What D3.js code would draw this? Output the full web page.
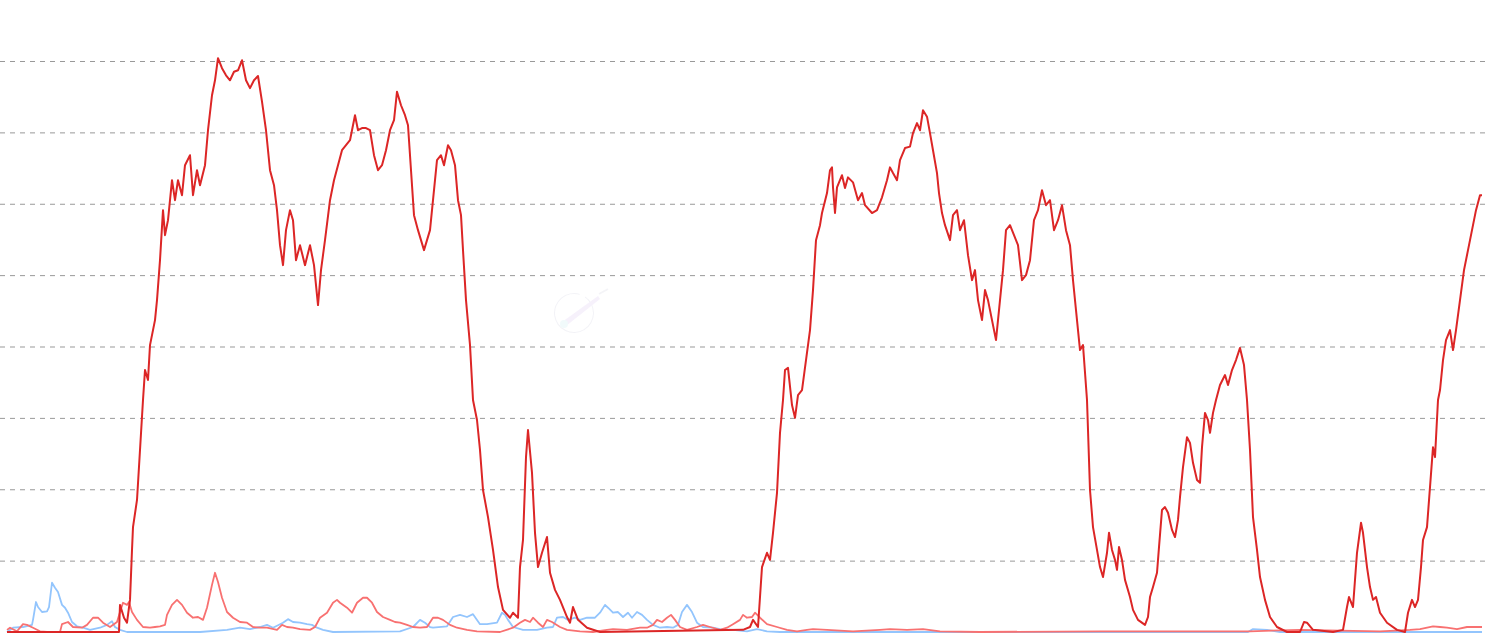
<!DOCTYPE html>
<html>
<head>
<meta charset="utf-8">
<script src="https://cdn.jsdelivr.net/npm/d3@7/dist/d3.min.js"></script>
<style>
html,body{margin:0;padding:0;background:#fff;}
svg{display:block;}
</style>
</head>
<body>
<svg id="chart" width="1490" height="633"></svg>
<script>
// ---- data (time index, value) ----
const gridTicks = [1, 2, 3, 4, 5, 6, 7, 8];

const mainT = [0,112,113,117,120,123,125,126,130,133,136,138,141,143,148,150,153,156,158,161,165,168,171,175,178,183,186,190,193,198,201,205,208,211,215,219,223,227,231,235,239,243,247,251,255,259,263,267,270,273,276,279,283,286,289,293,298,303,307,311,314,318,323,327,331,335,339,343,348,351,355,359,363,367,371,375,379,383,387,390,394,398,401,404,407,411,414,417,420,423,426,430,434,437,441,444,448,451,454,456,459,463,466,470,473,476,481,486,491,496,503,506,511,513,516,519,521,525,528,531,535,540,543,548,553,560,563,566,571,580,593,736,743,746,751,755,760,763,766,770,773,776,778,781,785,788,791,795,799,803,806,809,813,815,820,823,825,826,828,830,835,838,841,846,851,855,858,865,870,875,880,883,886,890,893,898,903,906,910,913,916,920,923,926,930,932,935,938,943,946,950,953,957,961,965,968,971,975,978,981,985,989,992,996,999,1003,1007,1011,1015,1019,1023,1027,1031,1035,1039,1043,1047,1051,1055,1059,1063,1066,1069,1073,1076,1080,1083,1086,1090,1093,1096,1100,1102,1105,1108,1110,1112,1115,1118,1123,1126,1131,1138,1141,1143,1146,1150,1152,1155,1158,1161,1165,1168,1171,1173,1176,1180,1183,1186,1190,1193,1195,1198,1201,1203,1206,1209,1213,1218,1221,1225,1229,1233,1237,1240,1243,1246,1250,1253,1258,1263,1270,1280,1293,1297,1300,1306,1326,1336,1340,1342,1346,1350,1354,1356,1360,1363,1366,1369,1373,1380,1390,1398,1401,1405,1408,1411,1414,1416,1420,1423,1426,1428,1431,1433,1436,1439,1443,1446,1449,1453,1457,1461,1465,1469,1473,1475];
const mainV = [0,0,0.38,0.20,0.13,0.45,1.15,1.47,1.85,2.55,3.25,3.67,3.53,4.02,4.37,4.65,5.21,5.91,5.56,5.77,6.33,6.05,6.33,6.12,6.54,6.68,6.12,6.47,6.26,6.54,7.03,7.52,7.73,8.04,7.90,7.80,7.73,7.85,7.87,8.01,7.73,7.62,7.73,7.79,7.43,7.03,6.47,6.26,5.91,5.42,5.14,5.63,5.91,5.77,5.21,5.42,5.14,5.42,5.14,4.58,5.07,5.49,6.05,6.33,6.54,6.75,6.82,6.89,7.24,7.03,7.06,7.06,7.03,6.68,6.47,6.54,6.75,7.03,7.17,7.57,7.38,7.24,7.10,6.47,5.84,5.63,5.49,5.35,5.49,5.63,6.05,6.61,6.68,6.54,6.82,6.75,6.54,6.05,5.84,5.35,4.65,4.02,3.25,2.97,2.55,1.99,1.61,1.15,0.63,0.31,0.20,0.27,0.20,0.91,1.29,2.45,2.83,2.23,1.39,0.91,1.11,1.33,0.83,0.59,0.45,0.21,0.13,0.35,0.17,0.06,0,0.03,0.07,0.17,0.07,0.91,1.11,1.01,1.39,1.95,2.79,3.25,3.67,3.70,3.18,3.00,3.32,3.39,3.81,4.23,4.79,5.49,5.70,5.87,6.15,6.47,6.51,6.23,5.87,6.23,6.40,6.22,6.37,6.30,6.05,6.15,5.98,5.87,5.91,6.09,6.33,6.51,6.43,6.33,6.61,6.78,6.80,6.99,7.13,7.03,7.31,7.22,6.99,6.75,6.43,6.15,5.87,5.70,5.49,5.84,5.91,5.63,5.77,5.28,4.93,5.07,4.65,4.37,4.79,4.65,4.37,4.09,4.51,5.07,5.63,5.70,5.56,5.42,4.93,5.00,5.21,5.77,5.91,6.19,5.98,6.05,5.63,5.77,5.98,5.63,5.42,4.93,4.51,3.95,4.02,3.25,1.99,1.47,1.15,0.91,0.77,1.11,1.39,1.15,1.01,0.87,1.19,1.01,0.73,0.49,0.31,0.17,0.10,0.21,0.49,0.63,0.83,1.19,1.71,1.75,1.67,1.43,1.33,1.57,1.89,2.31,2.73,2.65,2.37,2.13,2.09,2.59,3.07,2.97,2.79,3.07,3.25,3.46,3.60,3.46,3.67,3.81,3.98,3.74,3.25,2.55,1.61,1.15,0.77,0.45,0.21,0.07,0,0,0.14,0.13,0.03,0,0.03,0.35,0.49,0.35,1.11,1.53,1.39,0.91,0.63,0.45,0.49,0.27,0.13,0.03,0,0.27,0.45,0.35,0.45,0.91,1.29,1.47,2.03,2.59,2.45,3.25,3.39,3.81,4.09,4.23,3.95,4.23,4.65,5.07,5.35,5.63,5.91,6.12,6.12];

const pinkT = [0,3,10,16,20,26,33,40,53,55,61,66,75,80,86,91,96,103,110,113,116,120,122,125,130,136,143,148,153,158,160,165,170,175,180,186,191,196,200,205,208,211,215,220,226,233,240,246,253,260,270,275,280,286,293,303,308,313,320,326,330,333,340,345,350,356,360,365,370,376,383,388,393,400,406,413,420,426,431,436,443,450,460,470,493,506,513,518,523,526,531,536,540,545,553,560,573,586,600,606,620,633,640,646,650,655,660,664,668,673,680,690,696,703,713,720,726,733,736,740,745,748,753,760,770,780,790,800,806,820,846,873,883,900,916,933,973,1093,1243,1293,1373,1403,1413,1426,1433,1440,1450,1460,1470,1475];
const pinkV = [0.03,0.06,0.01,0.11,0.10,0.06,0.01,0,0,0.11,0.14,0.07,0.06,0.10,0.20,0.20,0.13,0.07,0.14,0.28,0.41,0.38,0.42,0.28,0.17,0.07,0.06,0.07,0.08,0.10,0.24,0.38,0.45,0.38,0.27,0.20,0.21,0.17,0.34,0.66,0.83,0.70,0.48,0.28,0.20,0.14,0.13,0.07,0.06,0.06,0.03,0.10,0.07,0.06,0.04,0.03,0.07,0.20,0.27,0.41,0.45,0.41,0.34,0.27,0.41,0.48,0.48,0.41,0.28,0.21,0.17,0.14,0.13,0.10,0.07,0.06,0.07,0.20,0.20,0.17,0.10,0.06,0.03,0.01,0,0.06,0.13,0.17,0.14,0.20,0.13,0.07,0.17,0.14,0.07,0.03,0.01,0,0.03,0.04,0.03,0.06,0.06,0.10,0.17,0.14,0.20,0.24,0.17,0.07,0.03,0.07,0.10,0.07,0.03,0.06,0.11,0.17,0.24,0.20,0.21,0.27,0.20,0.11,0.07,0.03,0.01,0.03,0.04,0.03,0.01,0.03,0.04,0.03,0.04,0.01,0,0.01,0.01,0.03,0.01,0.03,0.04,0.08,0.07,0.06,0.04,0.07,0.07,0.07];

const blueT = [0,6,16,25,26,29,31,35,40,42,45,48,51,55,58,61,65,70,76,83,93,100,105,108,113,120,193,220,233,243,253,260,266,276,281,286,293,300,305,310,316,326,393,406,413,418,423,426,440,446,453,460,466,473,480,490,495,498,501,506,516,530,540,546,550,556,561,568,573,580,588,593,598,601,606,611,616,621,625,630,635,640,646,653,660,666,671,675,680,685,690,696,706,713,726,740,750,760,773,993,1241,1246,1260,1273,1475];
const blueV = [0,0.06,0.07,0.10,0.17,0.42,0.35,0.28,0.29,0.35,0.69,0.62,0.56,0.38,0.34,0.27,0.14,0.08,0.06,0.03,0.06,0.10,0.15,0.07,0.03,0,0,0.03,0.06,0.04,0.07,0.10,0.06,0.13,0.18,0.14,0.13,0.11,0.10,0.06,0.03,0,0.01,0.07,0.17,0.13,0.07,0.06,0.08,0.21,0.24,0.21,0.25,0.11,0.11,0.13,0.27,0.24,0.17,0.07,0.03,0.03,0.06,0.07,0.20,0.21,0.17,0.20,0.17,0.20,0.20,0.27,0.38,0.34,0.27,0.28,0.21,0.27,0.20,0.28,0.24,0.17,0.10,0.06,0.07,0.06,0.10,0.28,0.38,0.28,0.13,0.07,0.06,0.04,0.03,0.01,0.04,0.01,0,0,0,0.04,0.03,0,0];

// ---- chart ----
const svg = d3.select("#chart");
const x = d3.scaleLinear().domain([0, 1475]).range([7, 1482]);
const y = d3.scaleLinear().domain([0, 8]).range([632, 61]);

// gridlines (axis with full-width ticks, no labels)
const yAxis = d3.axisRight(y).tickValues(gridTicks).tickSize(1488).tickFormat("");
const gAxis = svg.append("g").attr("transform", "translate(0,0)").call(yAxis);
gAxis.select(".domain").remove();
gAxis.selectAll(".tick line")
  .attr("stroke", "#999")
  .attr("stroke-width", 1)
  .attr("stroke-dasharray", "5,5");

// faint watermark
const wm = svg.append("g").attr("opacity", 0.35);
wm.append("path")
  .attr("d", d3.arc()({innerRadius: 19, outerRadius: 20, startAngle: 0.6, endAngle: 2 * Math.PI + 0.3}))
  .attr("transform", "translate(574,313)")
  .attr("fill", "#dcdce8");
wm.append("path")
  .attr("d", "M562,322 L598,296 L600,299 L566,326 Z")
  .attr("fill", "#e6d8f5");
wm.append("line").attr("x1", 599).attr("y1", 294).attr("x2", 608).attr("y2", 289)
  .attr("stroke", "#e0e0ea").attr("stroke-width", 2);
wm.append("circle").attr("cx", 564).attr("cy", 324).attr("r", 4).attr("fill", "#d8f2f4");

const line = d3.line().x(d => x(d[0])).y(d => y(d[1]));
const zip = (a, b) => a.map((t, i) => [t, b[i]]);

svg.append("path").datum(zip(blueT, blueV))
  .attr("d", line).attr("fill", "none").attr("stroke", "#93c5fd").attr("stroke-width", 1.8)
  .attr("stroke-linejoin", "round");
svg.append("path").datum(zip(pinkT, pinkV))
  .attr("d", line).attr("fill", "none").attr("stroke", "#f87171").attr("stroke-width", 1.8)
  .attr("stroke-linejoin", "round");
svg.append("path").datum(zip(mainT, mainV))
  .attr("d", line).attr("fill", "none").attr("stroke", "#dc2626").attr("stroke-width", 2)
  .attr("stroke-linejoin", "round");
</script>
</body>
</html>
